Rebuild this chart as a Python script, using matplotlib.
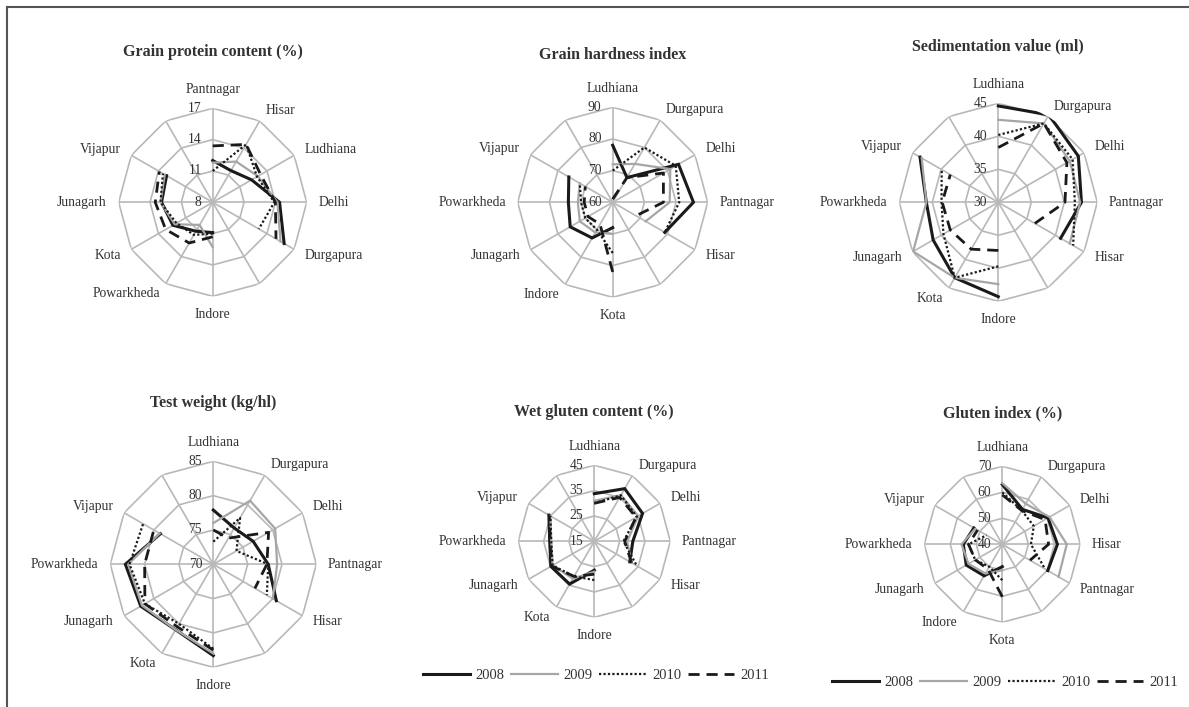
import numpy as np
import matplotlib
matplotlib.use('Agg')
import matplotlib.pyplot as plt
from matplotlib.lines import Line2D

matplotlib.rcParams['font.family'] = ['Liberation Serif', 'DejaVu Serif']

W, H = 1189, 707
nan = np.nan
years = ['2008', '2009', '2010', '2011']

# Grain protein content (%)
protein_sites = ['Pantnagar', 'Hisar', 'Ludhiana', 'Delhi', 'Durgapura', '',
                 'Indore', 'Powarkheda', 'Kota', 'Junagarh', 'Vijapur', '']
protein_2008 = [12.0, 11.5, 12.3, 14.4, 15.9, nan, 10.9, 11.2, 12.4, 12.9, 13.1, nan]
protein_2009 = [11.8, 12.5, 13.0, 14.2, 15.5, nan, 12.3, 10.5, 12.2, 13.0, 13.3, nan]
protein_2010 = [11.0, 14.4, 12.9, 13.9, 13.1, nan, 11.0, 11.6, 12.0, 13.0, 13.5, nan]
protein_2011 = [13.4, 14.4, 13.3, 14.0, 15.0, nan, 11.3, 12.5, 13.2, 13.5, 13.9, nan]
protein_ticks = [8, 11, 14, 17]

# Grain hardness index
hardness_sites = ['Ludhiana', 'Durgapura', 'Delhi', 'Pantnagar', 'Hisar', '',
                  'Kota', 'Indore', 'Junagarh', 'Powarkheda', 'Vijapur', '']
hardness_2008 = [78, 69, 84, 85.5, 79, nan, 68, 73, 75.5, 74, 76, nan]
hardness_2009 = [72, 74, 81, 78, 72, nan, 70, 71, 72, 71, 72, nan]
hardness_2010 = [70, 80, 83, 81, 79, nan, 76, 70, 70, 70, 72, nan]
hardness_2011 = [61, 69, 78.5, 76, 68.5, nan, 82, 68, 69, 69, 70, nan]
hardness_ticks = [60, 70, 80, 90]

# Sedimentation value (ml)
sedim_sites = ['Ludhiana', 'Durgapura', 'Delhi', 'Pantnagar', 'Hisar', '',
               'Indore', 'Kota', 'Junagarh', 'Powarkheda', 'Vijapur', '']
sedim_2008 = [44.6, 45.3, 44.0, 42.6, 40.9, nan, 44.3, 43.2, 41.4, 40.9, 43.7, nan]
sedim_2009 = [42.5, 43.8, 42.5, 42.4, 42.5, nan, 42.4, 43.2, 44.9, 40.9, 43.4, nan]
sedim_2010 = [40.2, 43.8, 43.0, 41.6, 43.1, nan, 39.7, 43.2, 39.6, 38.6, 39.9, nan]
sedim_2011 = [38.3, 43.8, 42.0, 40.1, 36.4, nan, 37.3, 38.2, 38.4, 38.5, 38.4, nan]
sedim_ticks = [30, 35, 40, 45]

# Test weight (kg/hl)
tw_sites = ['Ludhiana', 'Durgapura', 'Delhi', 'Pantnagar', 'Hisar', '',
            'Indore', 'Kota', 'Junagarh', 'Powarkheda', 'Vijapur', '']
tw_2008 = [77.9, 76.1, 76.7, 78.0, 80.6, nan, 83.3, 81.0, 82.2, 82.8, 78.9, nan]
tw_2009 = [76.0, 80.7, 80.4, 79.3, 80.0, nan, 83.0, 81.0, 82.0, 82.4, 79.0, nan]
tw_2010 = [73.3, 77.8, 73.9, 78.0, 79.0, nan, 82.3, 80.0, 81.5, 82.2, 81.8, nan]
tw_2011 = [75.0, 74.4, 79.3, 77.8, 77.0, nan, 82.5, 80.5, 81.5, 80.0, 80.0, nan]
tw_ticks = [70, 75, 80, 85]

# Wet gluten content (%)
wg_sites = ['Ludhiana', 'Durgapura', 'Delhi', 'Pantnagar', 'Hisar', '',
            'Indore', 'Kota', 'Junagarh', 'Powarkheda', 'Vijapur', '']
wg_2008 = [33.8, 39.0, 37.0, 30.2, 31.2, nan, 26.4, 34.5, 34.8, 32.6, 35.7, nan]
wg_2009 = [31.0, 36.0, 35.0, 28.0, 32.0, nan, 27.0, 32.0, 34.0, 32.0, 35.0, nan]
wg_2010 = [30.0, 36.0, 34.4, 26.5, 34.4, nan, 30.3, 31.0, 34.0, 32.0, 35.0, nan]
wg_2011 = [30.0, 35.0, 34.0, 27.0, 32.0, nan, 28.0, 31.0, 34.5, 32.5, 35.5, nan]
wg_ticks = [15, 25, 35, 45]

# Gluten index (%)
gi_sites = ['Ludhiana', 'Durgapura', 'Delhi', 'Hisar', 'Pantnagar', '',
            'Kota', 'Indore', 'Junagarh', 'Powarkheda', 'Vijapur', '']
gi_2008 = [63.0, 55.5, 60.3, 61.2, 60.2, nan, 48.6, 54.0, 56.0, 55.0, 52.6, nan]
gi_2009 = [63.5, 58.0, 61.0, 64.8, 65.0, nan, 50.0, 53.0, 55.0, 55.7, 52.0, nan]
gi_2010 = [60.0, 55.0, 54.0, 51.0, 59.0, nan, 53.8, 50.0, 52.0, 53.0, 47.0, nan]
gi_2011 = [59.0, 55.0, 59.0, 57.8, 52.3, nan, 60.2, 51.0, 52.0, 53.0, 51.0, nan]
gi_ticks = [40, 50, 60, 70]

# series styles: 2008 thick black, 2009 grey, 2010 dotted, 2011 dashed
styles = [dict(color='#1a1a1a', lw=2.2, ls='-'),
          dict(color='#a6a6a6', lw=1.6, ls='-'),
          dict(color='#1a1a1a', lw=1.6, ls=(0, (1, 1))),
          dict(color='#1a1a1a', lw=2.0, ls=(0, (4, 2.5)))]

GRID = '#b8b8b8'
TXT = '#333333'

fig = plt.figure(figsize=(W / 100, H / 100), dpi=100)


def radar(cx, cy, R, title, title_y, sites, series, ticks):
    ax = fig.add_axes([(cx - R) / W, 1 - (cy + R) / H, 2 * R / W, 2 * R / H],
                      projection='polar')
    ax.set_theta_zero_location('N')
    ax.set_theta_direction(-1)
    ax.set_ylim(ticks[0], ticks[-1])
    ax.grid(False)
    ax.spines['polar'].set_visible(False)
    ax.set_xticks([])
    ax.set_yticks([])
    ax.patch.set_alpha(0)

    n = len(sites)
    th = np.linspace(0, 2 * np.pi, n, endpoint=False)
    thc = np.append(th, th[0])
    # polygon grid
    for t in th:
        ax.plot([t, t], [ticks[0], ticks[-1]], color=GRID, lw=1.2, zorder=1)
    for r in ticks[1:]:
        ax.plot(thc, [r] * (n + 1), color=GRID, lw=1.2, zorder=1)
    for r in ticks:
        ax.annotate(str(r), xy=(0, r), xytext=(-8, 0), textcoords='offset points',
                    ha='right', va='center', fontsize=9.8, color=TXT, zorder=5)
    # category labels
    for t, s in zip(th, sites):
        if not s:
            continue
        sx, cy_ = np.sin(t), np.cos(t)
        ha = 'left' if sx > 0.1 else ('right' if sx < -0.1 else 'center')
        va = 'bottom' if cy_ > 0.9 else ('top' if cy_ < -0.9 else 'center')
        ax.annotate(s, xy=(t, ticks[-1]), xytext=(8.5 * sx, 8.5 * cy_),
                    textcoords='offset points', ha=ha, va=va,
                    fontsize=9.8, color=TXT, annotation_clip=False)
    lines = []
    for vals, st, yr in zip(series, styles, years):
        v = np.append(np.array(vals, float), vals[0])
        ln, = ax.plot(thc, v, label=yr, zorder=3, solid_joinstyle='miter', **st)
        lines.append(ln)
    fig.text(cx / W, 1 - title_y / H, title, ha='center', va='center',
             fontsize=11.5, fontweight='bold', color=TXT)
    return ax, lines


radar(212.7, 202.3, 94, 'Grain protein content (%)', 52, protein_sites,
      [protein_2008, protein_2009, protein_2010, protein_2011], protein_ticks)
radar(612.7, 202.3, 95, 'Grain hardness index', 55, hardness_sites,
      [hardness_2008, hardness_2009, hardness_2010, hardness_2011], hardness_ticks)
radar(998.3, 202.3, 99, 'Sedimentation value (ml)', 46, sedim_sites,
      [sedim_2008, sedim_2009, sedim_2010, sedim_2011], sedim_ticks)
radar(213.3, 564.3, 103, 'Test weight (kg/hl)', 403, tw_sites,
      [tw_2008, tw_2009, tw_2010, tw_2011], tw_ticks)
ax5, l5 = radar(594.3, 541.3, 76, 'Wet gluten content (%)', 412, wg_sites,
                [wg_2008, wg_2009, wg_2010, wg_2011], wg_ticks)
ax6, l6 = radar(1002.3, 544.3, 78, 'Gluten index (%)', 413, gi_sites,
                [gi_2008, gi_2009, gi_2010, gi_2011], gi_ticks)

for lns, (lx, ly) in [(l5, (596, 675)), (l6, (1005, 682))]:
    leg = fig.legend(handles=lns, labels=years, loc='center',
                     bbox_to_anchor=(lx / W, 1 - ly / H), ncol=4, frameon=False,
                     fontsize=10.5, handlelength=3.2, handletextpad=0.4,
                     columnspacing=0.45, borderpad=0.2)
    for t in leg.get_texts():
        t.set_color(TXT)

# frame lines on left and top
fig.add_artist(Line2D([7 / W, 7 / W], [0, 1 - 7 / H], transform=fig.transFigure,
                      color='#555555', lw=1.5))
fig.add_artist(Line2D([7 / W, 1], [1 - 7 / H, 1 - 7 / H], transform=fig.transFigure,
                      color='#555555', lw=1.5))

fig.savefig('out.png', dpi=100)
